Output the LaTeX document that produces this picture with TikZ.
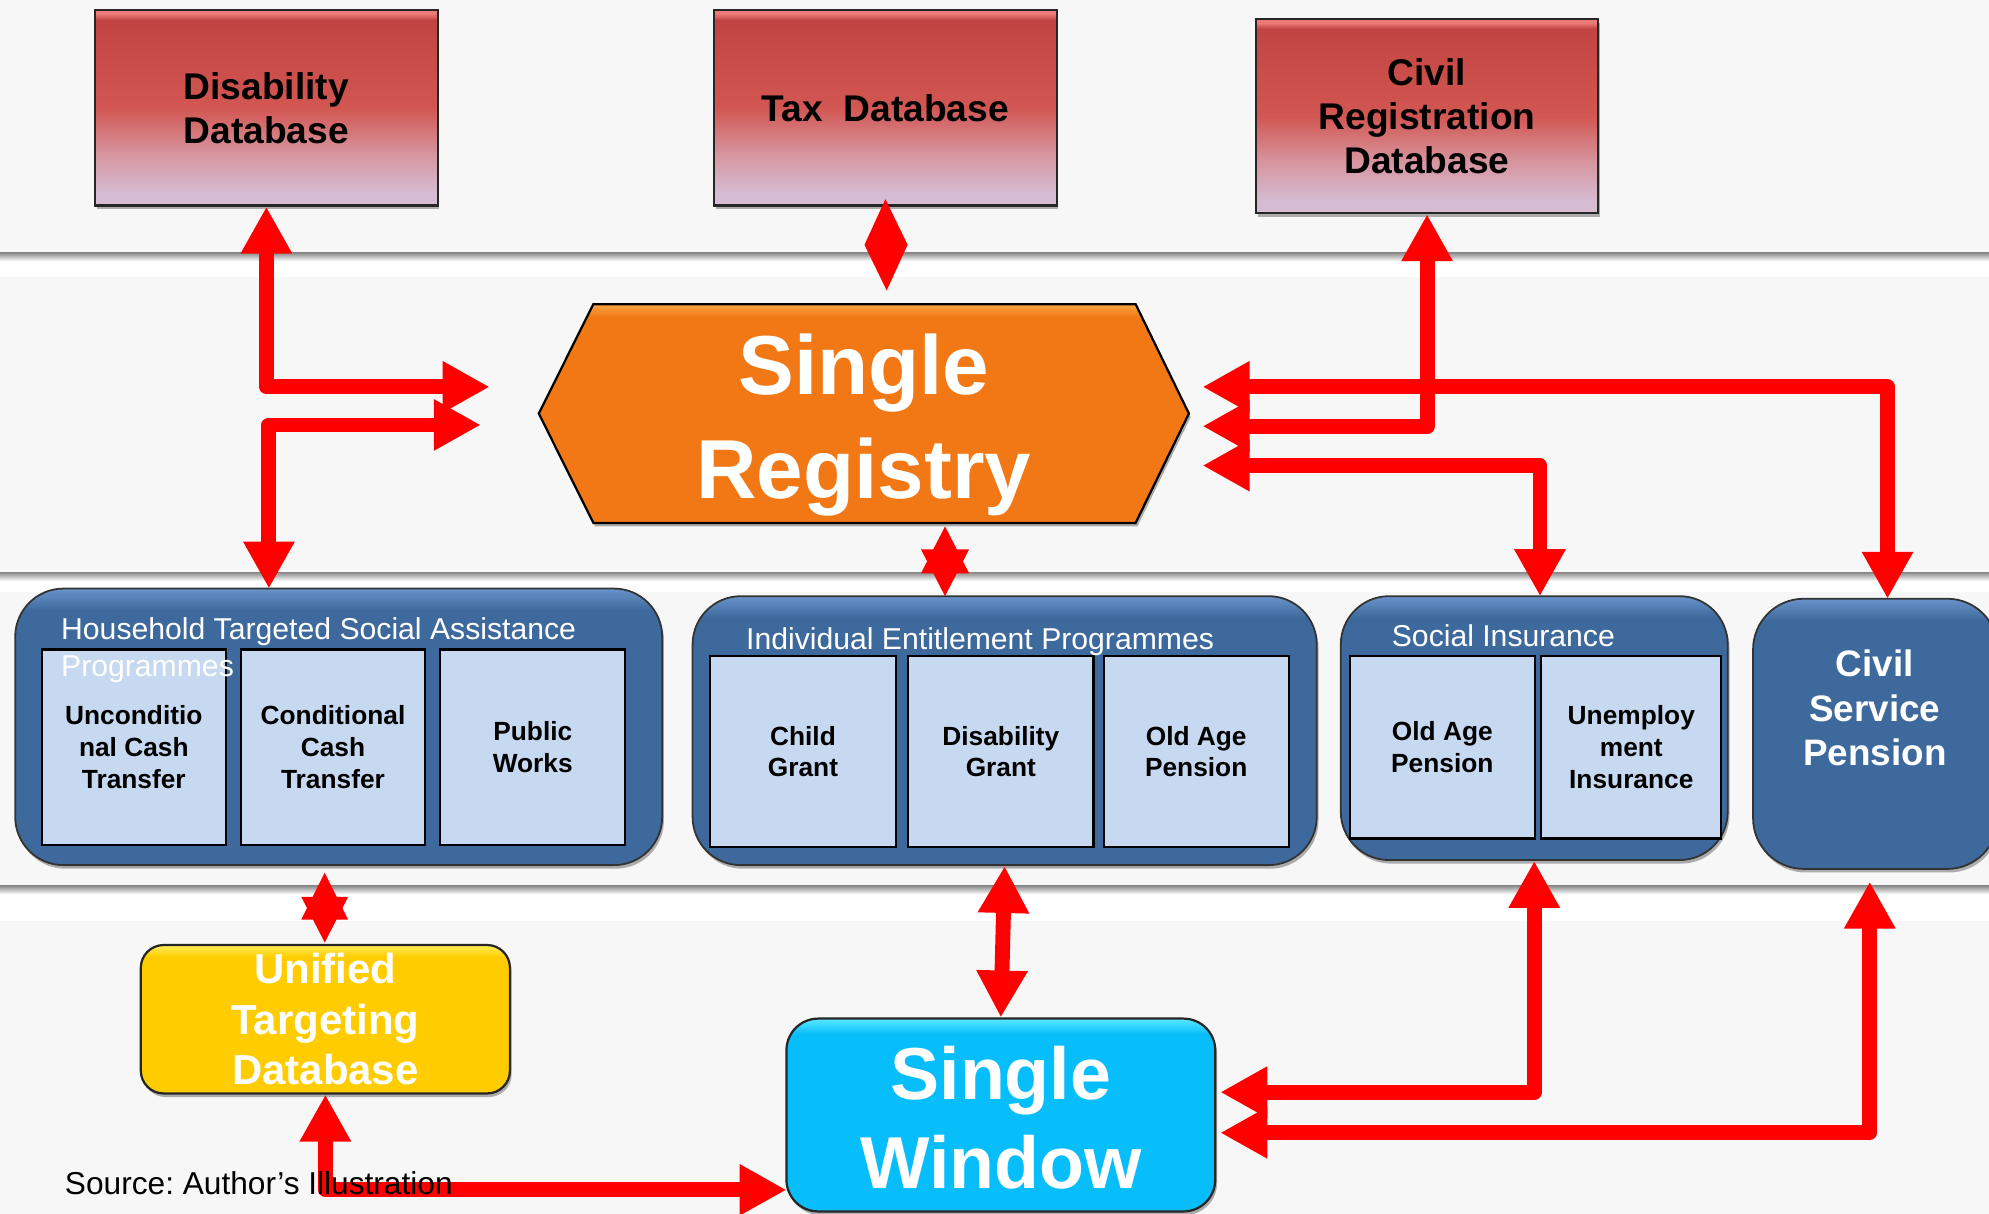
\documentclass[tikz,border=0pt]{standalone}
\usepackage{fontspec}
\setmainfont{Liberation Sans}
\frenchspacing
\usetikzlibrary{arrows.meta,shadows,calc}

\definecolor{bandgray}{RGB}{247,247,247}
\definecolor{lineGray}{RGB}{135,135,135}
\definecolor{redTop}{RGB}{194,68,66}
\definecolor{redHi}{RGB}{236,122,120}
\definecolor{redMid}{RGB}{210,86,82}
\definecolor{redPink}{RGB}{214,150,160}
\definecolor{redLav}{RGB}{214,188,210}
\definecolor{regOrange}{RGB}{241,120,20}
\definecolor{regHi}{RGB}{250,165,70}
\definecolor{progBlue}{RGB}{62,105,156}
\definecolor{progHi}{RGB}{105,148,202}
\definecolor{innerBlue}{RGB}{198,217,240}
\definecolor{utdYellow}{RGB}{255,204,0}
\definecolor{utdHi}{RGB}{255,240,90}
\definecolor{swCyan}{RGB}{8,190,250}
\definecolor{swHi}{RGB}{90,232,255}
\definecolor{linkRed}{RGB}{255,0,0}

% vertical shadings: the band 25bp..75bp spans the shaded path from bottom to top
\pgfdeclareverticalshading{dbshade}{100bp}{color(0bp)=(redLav); color(28bp)=(redLav); color(38bp)=(redPink); color(50bp)=(redMid); color(72.5bp)=(redTop); color(74bp)=(redHi); color(100bp)=(redHi)}
\pgfdeclareverticalshading{regshade}{100bp}{color(0bp)=(regOrange); color(72bp)=(regOrange); color(75bp)=(regHi); color(100bp)=(regHi)}
\pgfdeclareverticalshading{progshade}{100bp}{color(0bp)=(progBlue); color(71bp)=(progBlue); color(75bp)=(progHi); color(100bp)=(progHi)}
\pgfdeclareverticalshading{utdshade}{100bp}{color(0bp)=(utdYellow); color(71bp)=(utdYellow); color(75bp)=(utdHi); color(100bp)=(utdHi)}
\pgfdeclareverticalshading{swshade}{100bp}{color(0bp)=(swCyan); color(71bp)=(swCyan); color(75bp)=(swHi); color(100bp)=(swHi)}

\begin{document}
\begin{tikzpicture}[x=0.03cm, y=-0.03cm,
  softshadow/.style={drop shadow={shadow xshift=1.2pt, shadow yshift=-2.4pt, opacity=0.3, fill=black}},
  dbbox/.style={rectangle, draw=black!85, line width=1.5pt, shade, shading=dbshade,
    minimum width=8.1cm, minimum height=4.62cm, inner sep=0pt, align=center,
    font=\bfseries\fontsize{25}{29.5}\selectfont, softshadow},
  progbox/.style={rectangle, rounded corners=1.14cm, draw=black!80, line width=1.2pt,
    shade, shading=progshade, inner sep=0pt, softshadow},
  inbox/.style={rectangle, draw=black, line width=1.4pt, fill=innerBlue, inner sep=0pt,
    align=center, font=\bfseries\fontsize{17.7}{21.3}\selectfont},
  grouptitle/.style={text=white, inner sep=0pt, align=left,
    font=\fontsize{20.3}{24.8}\selectfont},
  bigwhite/.style={text=white, inner sep=0pt, align=center},
  redlink/.style={draw=linkRed, line width=10pt, line join=round,
    arrows={Triangle[length=31.6pt,width=32.4pt]-Triangle[length=31.6pt,width=32.4pt]}},
  redtip/.style={fill=linkRed}
]
\useasboundingbox (0,0) rectangle (1568,957);
\clip (0,0) rectangle (1568,957);

% background bands and separators
\fill[bandgray] (0,0) rectangle (1568,957);
\fill[white] (0,199) rectangle (1568,218);
\fill[white] (0,451) rectangle (1568,467);
\fill[white] (0,698) rectangle (1568,726);
\shade[top color=lineGray, bottom color=white] (0,199) rectangle (1568,206);
\shade[top color=lineGray, bottom color=white] (0,451) rectangle (1568,458);
\shade[top color=lineGray, bottom color=white] (0,698) rectangle (1568,705);

% data sources
\node[dbbox] (disdb) at (210,85) {Disability\\Database};
\node[dbbox] (taxdb) at (698,85) {Tax\ \ Database};
\node[dbbox, minimum height=4.59cm] (crdb) at (1125,91.5) {Civil\\Registration\\Database};

% single registry (hexagon)
\node[minimum width=15.36cm, minimum height=5.16cm, inner sep=0pt] (reg) at (681,326) {};
\path[shade, shading=regshade, draw=black, line width=1.5pt, line join=miter, softshadow]
  (reg.west) -- ($(reg.north west)+(43,0)$) -- ($(reg.north east)+(-42,0)$) -- (reg.east)
  -- ($(reg.south east)+(-42,0)$) -- ($(reg.south west)+(43,0)$) -- cycle;
\node[bigwhite, font=\bfseries\fontsize{56.3}{70}\selectfont] (regLabel) at (681,335) {Single\\Registry};

% programme groups
\node[progbox, minimum width=15.3cm, minimum height=6.54cm] (htsa) at (267,573) {};
\node[progbox, minimum width=14.76cm, minimum height=6.36cm] (iep) at (792,576) {};
\node[progbox, minimum width=9.15cm, minimum height=6.24cm] (si) at (1209.5,574) {};
\node[progbox, minimum width=5.79cm, minimum height=6.39cm, rounded corners=1.2cm] (csp) at (1478.5,578.5) {};

\node[inbox, minimum width=4.35cm, minimum height=4.62cm] (uct) at (105.5,589) {Unconditio\\nal Cash\\Transfer};
\node[inbox, minimum width=4.35cm, minimum height=4.62cm] (cct) at (262.5,589) {Conditional\\Cash\\Transfer};
\node[inbox, minimum width=4.38cm, minimum height=4.62cm] (pw) at (420,589) {Public\\Works};

\node[inbox, minimum width=4.38cm, minimum height=4.53cm] (cg) at (633,592.5) {Child\\Grant};
\node[inbox, minimum width=4.38cm, minimum height=4.53cm] (dg) at (789,592.5) {Disability\\Grant};
\node[inbox, minimum width=4.38cm, minimum height=4.53cm] (oap) at (943,592.5) {Old Age\\Pension};

\node[inbox, minimum width=4.38cm, minimum height=4.32cm] (sioap) at (1137,589) {Old Age\\Pension};
\node[inbox, minimum width=4.26cm, minimum height=4.32cm] (ui) at (1286,589) {Unemploy\\ment\\Insurance};

\node[grouptitle, anchor=north west] (htsaTitle) at (48,486.5) {Household Targeted Social Assistance\\Programmes};
\node[grouptitle, anchor=north west] (iepTitle) at (588,494.5) {Individual Entitlement Programmes};
\node[grouptitle, anchor=north west] (siTitle) at (1097,492.5) {Social Insurance};
\node[bigwhite, font=\bfseries\fontsize{24.8}{30}\selectfont] (cspLabel) at (1478,558) {Civil\\Service\\Pension};

% delivery side
\node[rectangle, rounded corners=0.54cm, draw=black!85, line width=1.5pt, shade, shading=utdshade,
  minimum width=8.73cm, minimum height=3.51cm, inner sep=0pt, softshadow,
  text=white, align=center, font=\bfseries\fontsize{28.2}{34}\selectfont] (utd) at (256.5,803.5)
  {Unified\\Targeting\\Database};
\node[rectangle, rounded corners=0.75cm, draw=black!85, line width=1.5pt, shade, shading=swshade,
  minimum width=10.14cm, minimum height=4.56cm, inner sep=0pt, softshadow] (sw) at (789,879) {};
\node[bigwhite, font=\bfseries\fontsize{49.5}{60}\selectfont] (swLabel) at (789,881.4) {Single\\Window};

% connector end points
\coordinate (disIn) at (386,305);
\coordinate (htsaOut) at (379,335);
\coordinate (htsaTop) at (212,464);
\coordinate (regA) at (948,305);
\coordinate (regB) at (948,336);
\coordinate (regC) at (948,367);
\coordinate (cspTop) at (1488,472);
\coordinate (siTop) at (1214,470);
\coordinate (swA) at (962,861);
\coordinate (swB) at (962,893);
\coordinate (swC) at (620,938);
\coordinate (cspBot) at (1474,695);

% connectors
\draw[redlink] (disdb.south) -- (disdb.south |- disIn) -- (disIn);
\draw[redlink] (htsaOut) -- (htsaTop |- htsaOut) -- (htsaTop);
\draw[redlink] (cspTop) -- (cspTop |- regA) -- (regA);
\draw[redlink] (crdb.south) -- (crdb.south |- regB) -- (regB);
\draw[redlink] (siTop) -- (siTop |- regC) -- (regC);
\draw[redlink] (iep.south) -- (sw.north);
\draw[redlink] (si.south) -- (si.south |- swA) -- (swA);
\draw[redlink] (cspBot) -- (cspBot |- swB) -- (swB);
\draw[redlink] (utd.south) -- (utd.south |- swC) -- (swC);

% back-to-back heads: tax database <-> registry
\coordinate (taxTip) at (698,157);
\coordinate (regTip) at (699,229);
\fill[redtip] (taxTip) -- ++(17.5,36) -- (regTip) -- ++(-17.5,-36) -- cycle;

% overlapping heads: registry <-> individual entitlements
\coordinate (regStar) at (745,415);
\coordinate (iepStar) at (745,470);
\fill[redtip] (regStar) -- ++(19,37) -- ++(-38,0) -- cycle;
\fill[redtip] (iepStar) -- ++(19,-37) -- ++(-38,0) -- cycle;

% overlapping heads: household assistance <-> unified targeting
\coordinate (htsaStar) at (256,688);
\coordinate (utdStar) at (256,743);
\fill[redtip] (htsaStar) -- ++(18.5,37) -- ++(-37,0) -- cycle;
\fill[redtip] (utdStar) -- ++(18.5,-36) -- ++(-37,0) -- cycle;

% source line
\node[anchor=west, inner sep=0pt, font=\fontsize{21.3}{25}\selectfont] (src) at (51,933) {Source: Author’s Illustration};
\end{tikzpicture}
\end{document}
